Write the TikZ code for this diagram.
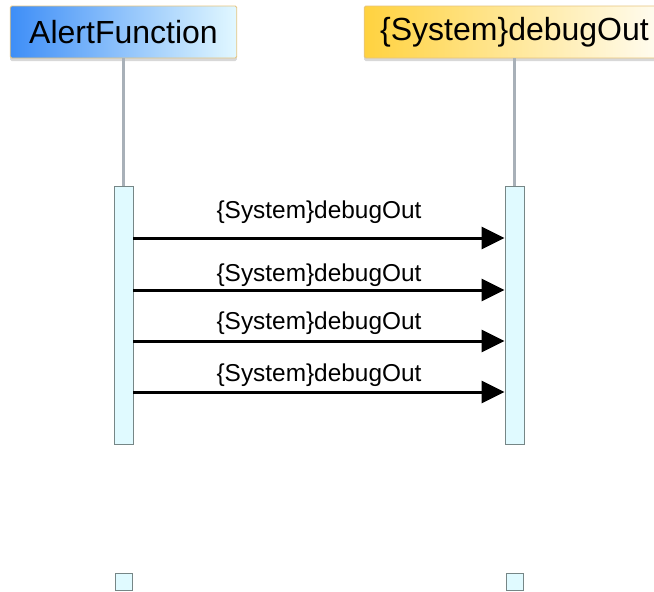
\documentclass[tikz,border=0pt]{standalone}
\usepackage{fontspec}
\usepackage{tikz}
\usetikzlibrary{arrows.meta,shadows,calc}
\newfontfamily\diafont{Liberation Sans}
\definecolor{headblue}{HTML}{3E8EF7}
\definecolor{headcyan}{HTML}{E2F8FF}
\definecolor{headgold}{HTML}{FFD23F}
\definecolor{headcream}{HTML}{FFFDF4}
\definecolor{headrim}{HTML}{E6C47E}
\definecolor{lifegrey}{HTML}{A8B0B8}
\definecolor{actfill}{HTML}{E0FAFF}
\definecolor{actrim}{HTML}{768686}

\begin{document}
\begin{tikzpicture}[x=1pt,y=-1pt,
      head/.style={
        rectangle,
        draw=headrim,
        line width=0.8pt,
        rounded corners=1.5pt,
        minimum height=52pt,
        inner xsep=19pt,
        font=\diafont\fontsize{32}{38}\selectfont,
        drop shadow={shadow xshift=0pt,shadow yshift=-3pt,fill=black!22,opacity=0.7}
      },
      act/.style={
        rectangle,
        draw=actrim,
        fill=actfill,
        line width=0.9pt,
        inner sep=0pt,
        minimum width=19pt
      },
      lifeline/.style={draw=lifegrey,line width=3pt},
      msg/.style={-{Triangle[length=23pt,width=22pt]},line width=3pt},
      msglabel/.style={font=\diafont\fontsize{24.4}{29}\selectfont,inner sep=0pt}
    ]
    \useasboundingbox (0,0) rectangle (654,592);
    % lifeline heads
    \node[head,left color=headblue,right color=headcyan] (alert) at (123.5,32) {AlertFunction};
    \node[head,inner xsep=16pt,left color=headgold,right color=headcream] (debug) at (514.5,32) {\{System\}debugOut};
    % activations
    \node[act,anchor=north,minimum height=258pt] (actA) at (123.5,186) {};
    \node[act,anchor=north,minimum height=258pt] (actB) at (514.5,186) {};
    \draw[lifeline] (alert.south) -- (actA.north);
    \draw[lifeline] (debug.south) -- (actB.north);
    % messages
    \foreach \y/\ly [count=\i] in {238/212.5,290/275,341/323.5,392/375.5} {
      \coordinate (src\i) at (actA.east |- 0,\y);
      \coordinate (dst\i) at (actB.west |- 0,\y);
      \draw[msg] (src\i) -- (dst\i);
      \node[msglabel] (lab\i) at ($(src\i)!0.5!(dst\i) + (0,\ly-\y)$) {\{System\}debugOut};
    }
    % lifeline ends
    \node[act,minimum width=17pt,minimum height=17pt] (endA) at (123.5,581.5) {};
    \node[act,minimum width=17pt,minimum height=17pt] (endB) at (514.5,581.5) {};
\end{tikzpicture}
\end{document}
